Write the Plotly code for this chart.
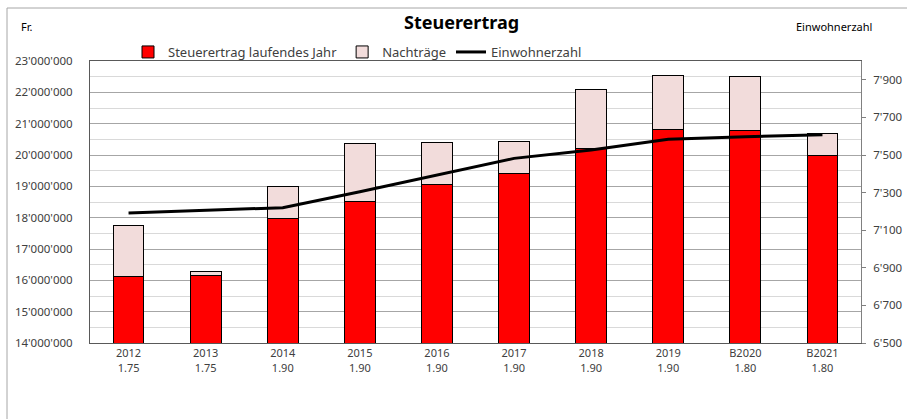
import plotly.graph_objects as go

categories = ["2012", "2013", "2014", "2015", "2016", "2017", "2018", "2019", "B2020", "B2021"]
tax_rates = ["1.75", "1.75", "1.90", "1.90", "1.90", "1.90", "1.90", "1.90", "1.80", "1.80"]
steuerertrag = [16110000, 16150000, 17980000, 18510000, 19070000, 19420000, 20200000, 20820000, 20790000, 19990000]
nachtraege = [1650000, 120000, 1020000, 1860000, 1320000, 1020000, 1900000, 1720000, 1700000, 700000]
einwohner = [7191, 7206, 7220, 7305, 7394, 7482, 7527, 7584, 7597, 7608]

left_ticks = list(range(14000000, 23000001, 1000000))
right_ticks = list(range(6500, 7901, 200))

FONT = "Noto Sans"
TXT = "#404040"

# plot area in pixels
L, R, T, B = 90, 861, 61, 343
W, H = 907, 419
def px(x):
    return (x - L) / (R - L)
def py(y):
    return (B - y) / (B - T)

fig = go.Figure()
fig.add_trace(go.Bar(
    x=categories, y=steuerertrag, name="Steuerertrag laufendes Jahr",
    marker=dict(color="#FF0000", line=dict(color="#000000", width=1)),
))
fig.add_trace(go.Bar(
    x=categories, y=nachtraege, name="Nachträge",
    marker=dict(color="#F2DCDB", line=dict(color="#000000", width=1)),
))
fig.add_trace(go.Scatter(
    x=categories, y=einwohner, name="Einwohnerzahl", yaxis="y2",
    mode="lines", line=dict(color="#000000", width=3),
))

fig.update_layout(
    width=W, height=H,
    margin=dict(l=L, r=W - R, t=T, b=H - B, autoexpand=False),
    paper_bgcolor="white", plot_bgcolor="white",
    barmode="stack", bargap=0.6,
    separators=".'",
    font=dict(family=FONT, size=11, color=TXT),
    showlegend=True,
    legend=dict(
        orientation="h", x=px(128), xanchor="left", y=py(52), yanchor="middle",
        font=dict(family=FONT, size=13, color=TXT),
        itemwidth=30, traceorder="normal", bgcolor="rgba(0,0,0,0)",
        tracegroupgap=0,
    ),
    xaxis=dict(
        type="category",
        tickmode="array", tickvals=categories,
        ticktext=[f"{c}<br>{r}" for c, r in zip(categories, tax_rates)],
        showline=True, linecolor="#595959", linewidth=1, mirror=True,
        ticks="", showgrid=False,
        tickfont=dict(family=FONT, size=11, color=TXT),
    ),
    yaxis=dict(
        range=[14000000, 23000000], tickmode="array", tickvals=left_ticks,
        tickformat=",d", showline=True, linecolor="#595959", linewidth=1,
        showgrid=True, gridcolor="#a6a6a6", gridwidth=1,
        minor=dict(dtick=500000, tick0=14500000, showgrid=True, gridcolor="#d9d9d9", gridwidth=1),
        ticks="", ticklabelstandoff=14, zeroline=False,
        tickfont=dict(family=FONT, size=11.5, color=TXT),
    ),
    yaxis2=dict(
        overlaying="y", side="right",
        range=[6500, 8000], tickmode="array", tickvals=right_ticks,
        tickformat=",d", showline=True, linecolor="#808080", linewidth=1,
        showgrid=False, zeroline=False,
        ticks="outside", ticklen=4, tickcolor="#808080",
        ticklabelstandoff=5,
        tickfont=dict(family=FONT, size=11.5, color=TXT),
    ),
    annotations=[
        dict(text="<b>Steuerertrag</b>", x=px(461), y=py(22), xref="paper", yref="paper",
             showarrow=False, font=dict(family=FONT, size=18, color="#000000"),
             xanchor="center", yanchor="middle"),
        dict(text="Fr.", x=px(19), y=py(27), xref="paper", yref="paper",
             showarrow=False, font=dict(family=FONT, size=11, color="#000000"),
             xanchor="left", yanchor="middle"),
        dict(text="Einwohnerzahl", x=px(794), y=py(27), xref="paper", yref="paper",
             showarrow=False, font=dict(family=FONT, size=11, color="#000000"),
             xanchor="left", yanchor="middle"),
    ],
    shapes=[
        dict(type="line", xref="paper", yref="paper", x0=px(7), x1=px(907), y0=py(8), y1=py(8),
             line=dict(color="#a6a6a6", width=1)),
        dict(type="line", xref="paper", yref="paper", x0=px(7), x1=px(7), y0=py(8), y1=py(419),
             line=dict(color="#a6a6a6", width=1)),
    ],
)

fig.write_html("out.html", config={"displayModeBar": False},
               post_script="document.body.style.margin='0';")
